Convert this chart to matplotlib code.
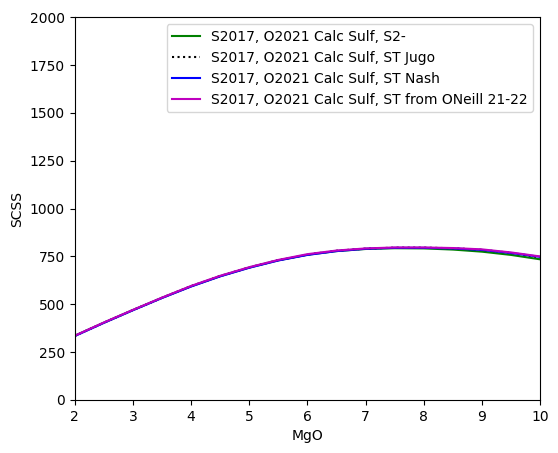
import matplotlib
matplotlib.use('Agg')
import matplotlib.pyplot as plt

# MgO values (wt%) and SCSS estimates
mgo = [2.0, 2.5, 3.0, 3.5, 4.0, 4.5, 5.0, 5.5, 6.0, 6.5, 7.0, 7.5, 8.0, 8.5, 9.0, 9.5, 10.0]
scss_s2 = [336, 404, 470, 534, 594, 647, 692, 730, 759, 778, 789, 793, 792, 786, 775, 758, 735]
scss_jugo = [335, 404, 470, 534, 595, 648, 693, 731, 760, 780, 791, 796, 796, 793, 785, 769, 745]
scss_nash = [334, 403, 469, 533, 593, 646, 691, 729, 758, 778, 790, 795, 795, 792, 784, 768, 748]
scss_oneill = [336, 405, 471, 535, 596, 649, 694, 732, 762, 781, 792, 797, 797, 794, 787, 771, 750]

labels = ['S2017, O2021 Calc Sulf, S2-',
          'S2017, O2021 Calc Sulf, ST Jugo',
          'S2017, O2021 Calc Sulf, ST Nash',
          'S2017, O2021 Calc Sulf, ST from ONeill 21-22']

fig, ax = plt.subplots(figsize=(5.58, 4.53), dpi=100)
fig.subplots_adjust(left=0.134, right=0.968, top=0.962, bottom=0.117)

ax.plot(mgo, scss_s2, '-g', label=labels[0])
ax.plot(mgo, scss_jugo, ':k', label=labels[1])
ax.plot(mgo, scss_nash, '-b', label=labels[2])
ax.plot(mgo, scss_oneill, '-m', label=labels[3])

ax.set_xlim([2, 10])
ax.set_ylim([0, 2000])
ax.set_xlabel('MgO')
ax.set_ylabel('SCSS')
ax.legend(loc='upper right')

fig.savefig('out.png', dpi=100)
